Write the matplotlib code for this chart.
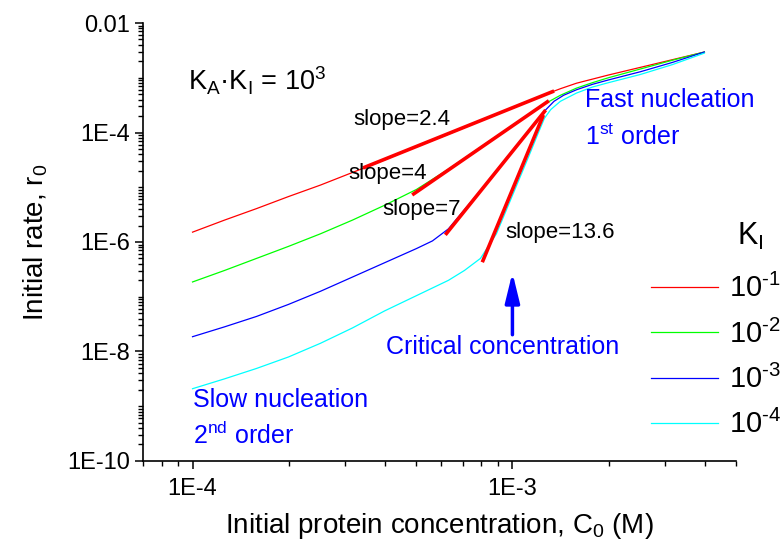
import numpy as np
import matplotlib
matplotlib.use('Agg')
import matplotlib.pyplot as plt
from matplotlib.ticker import LogLocator, NullFormatter

plt.rcParams['font.family'] = ['Liberation Sans', 'DejaVu Sans']
plt.rcParams['mathtext.default'] = 'regular'

# curves, as log10 of C0 (M) and log10 of r0
lc_red = [-4.0, -3.9, -3.8, -3.7, -3.6, -3.5, -3.4, -3.3, -3.2, -3.1, -3.0,
          -2.9, -2.85, -2.8, -2.7, -2.6, -2.5, -2.4]
lr_red = [-5.82, -5.60, -5.39, -5.17, -4.96, -4.73, -4.50, -4.26, -4.03, -3.79, -3.55,
          -3.31, -3.20, -3.10, -2.95, -2.81, -2.67, -2.53]

lc_green = [-4.0, -3.9, -3.8, -3.7, -3.6, -3.5, -3.4, -3.3, -3.2, -3.1, -3.0,
            -2.9, -2.85, -2.8, -2.75, -2.7, -2.6, -2.5, -2.4]
lr_green = [-6.73, -6.52, -6.30, -6.08, -5.85, -5.60, -5.33, -5.04, -4.67, -4.27, -3.87,
            -3.48, -3.32, -3.19, -3.09, -3.00, -2.84, -2.68, -2.53]

lc_blue = [-4.0, -3.9, -3.8, -3.7, -3.6, -3.5, -3.4, -3.3, -3.25, -3.2, -3.15, -3.1,
           -3.0, -2.95, -2.9, -2.87, -2.84, -2.8, -2.75, -2.7, -2.6, -2.5, -2.4]
lr_blue = [-7.73, -7.55, -7.36, -7.14, -6.90, -6.64, -6.38, -6.12, -5.98, -5.76, -5.41, -5.06,
           -4.33, -3.97, -3.61, -3.43, -3.32, -3.22, -3.12, -3.04, -2.89, -2.72, -2.53]

lc_cyan = [-4.0, -3.9, -3.8, -3.7, -3.6, -3.5, -3.4, -3.3, -3.2, -3.15, -3.1, -3.05,
           -3.0, -2.95, -2.92, -2.9, -2.88, -2.85, -2.8, -2.75, -2.7, -2.6, -2.5, -2.4]
lr_cyan = [-8.68, -8.50, -8.31, -8.10, -7.85, -7.57, -7.26, -6.98, -6.70, -6.52, -6.30, -5.85,
           -5.15, -4.45, -4.02, -3.74, -3.58, -3.43, -3.28, -3.17, -3.09, -2.94, -2.76, -2.55]

ki_labels = ['10$^{\u20101}$', '10$^{\u20102}$', '10$^{\u20103}$', '10$^{\u20104}$']
colors = ['#ff0000', '#00ff00', '#0000ff', '#00ffff']

# fitted slope segments: (C0 start, C0 end), (r0 start, r0 end)
fit_c0 = [(3.41e-4, 1.35e-3), (4.86e-4, 1.30e-3), (6.17e-4, 1.27e-3), (8.05e-4, 1.25e-3)]
fit_r0 = [(2.25e-5, 5.73e-4), (7.24e-6, 3.80e-4), (1.35e-6, 2.57e-4), (4.27e-7, 2.09e-4)]
slope_text = ['slope=2.4', 'slope=4', 'slope=7', 'slope=13.6']
slope_pos = [(3.18e-4, 1.7e-4), (3.06e-4, 1.8e-5), (3.92e-4, 3.85e-6), (9.5e-4, 1.5e-6)]

xticks = [1e-4, 1e-3]
xticklabels = ['1E-4', '1E-3']
yticks = [1e-10, 1e-8, 1e-6, 1e-4, 1e-2]
yticklabels = ['1E-10', '1E-8', '1E-6', '1E-4', '0.01']

fig = plt.figure(figsize=(7.83, 5.56), dpi=100)
ax = fig.add_axes([0.1826, 0.1709, 0.7574, 0.7877])

curves = [(lc_red, lr_red), (lc_green, lr_green), (lc_blue, lr_blue), (lc_cyan, lr_cyan)]
handles = []
for (lx, ly), col, lab in zip(curves, colors, ki_labels):
    h, = ax.plot(10.0 ** np.array(lx), 10.0 ** np.array(ly), color=col, lw=0.9, label=lab)
    handles.append(h)

for xs, ys in zip(fit_c0, fit_r0):
    ax.plot(xs, ys, color='#ff0000', lw=2.6, solid_capstyle='butt')

for t, (x, y) in zip(slope_text, slope_pos):
    ax.text(x, y, t, fontsize=16, ha='left', va='center')

ax.set_xscale('log')
ax.set_yscale('log')
ax.set_xlim(7e-5, 5e-3)
ax.set_ylim(1e-10, 1e-2)
ax.set_xticks(xticks)
ax.set_xticklabels(xticklabels)
ax.set_yticks(yticks)
ax.set_yticklabels(yticklabels)
ax.xaxis.set_minor_locator(LogLocator(base=10, subs=np.arange(1, 10), numticks=100))
ax.yaxis.set_minor_locator(LogLocator(base=10, subs=np.arange(1, 10), numticks=100))
ax.xaxis.set_minor_formatter(NullFormatter())
ax.yaxis.set_minor_formatter(NullFormatter())
ax.tick_params(which='major', direction='out', length=6, width=1.1, labelsize=17)
ax.tick_params(axis='x', which='major', pad=6)
ax.tick_params(which='minor', direction='out', length=3.5, width=1.0)
for s in ['top', 'right']:
    ax.spines[s].set_visible(False)
for s in ['left', 'bottom']:
    ax.spines[s].set_linewidth(1.2)

ax.set_xlabel('Initial protein concentration, C$_0$ (M)', fontsize=20, labelpad=8)
ax.set_ylabel('Initial rate, r$_0$', fontsize=20, labelpad=12)

ax.text(0.076, 0.847, 'K$_A$·K$_I$ = 10$^3$', transform=ax.transAxes, fontsize=19.5)
ax.text(0.745, 0.824, 'Fast nucleation', transform=ax.transAxes, fontsize=18,
        color='blue', va='center')
ax.text(0.745, 0.740, '1$^{st}$ order', transform=ax.transAxes, fontsize=18,
        color='blue', va='center')
ax.text(0.084, 0.139, 'Slow nucleation', transform=ax.transAxes, fontsize=18,
        color='blue', va='center')
ax.text(0.084, 0.059, '2$^{nd}$ order', transform=ax.transAxes, fontsize=18,
        color='blue', va='center')
ax.text(0.607, 0.260, 'Critical concentration', transform=ax.transAxes, fontsize=18,
        color='blue', va='center', ha='center')
ax.annotate('', xy=(1e-3, 3.1e-7), xytext=(1e-3, 1.8e-8),
            arrowprops=dict(arrowstyle='-|>,head_length=0.9,head_width=0.22',
                            color='blue', lw=2.5, mutation_scale=20))

leg = fig.legend(handles=handles, loc='upper left', bbox_to_anchor=(0.831, 0.507),
                 frameon=False, fontsize=21, handlelength=2.3, handletextpad=0.4,
                 labelspacing=0.55, borderpad=0, borderaxespad=0)
fig.text(0.941, 0.574, 'K$_I$', fontsize=22, ha='left', va='center')

fig.savefig('out.png', dpi=100)
